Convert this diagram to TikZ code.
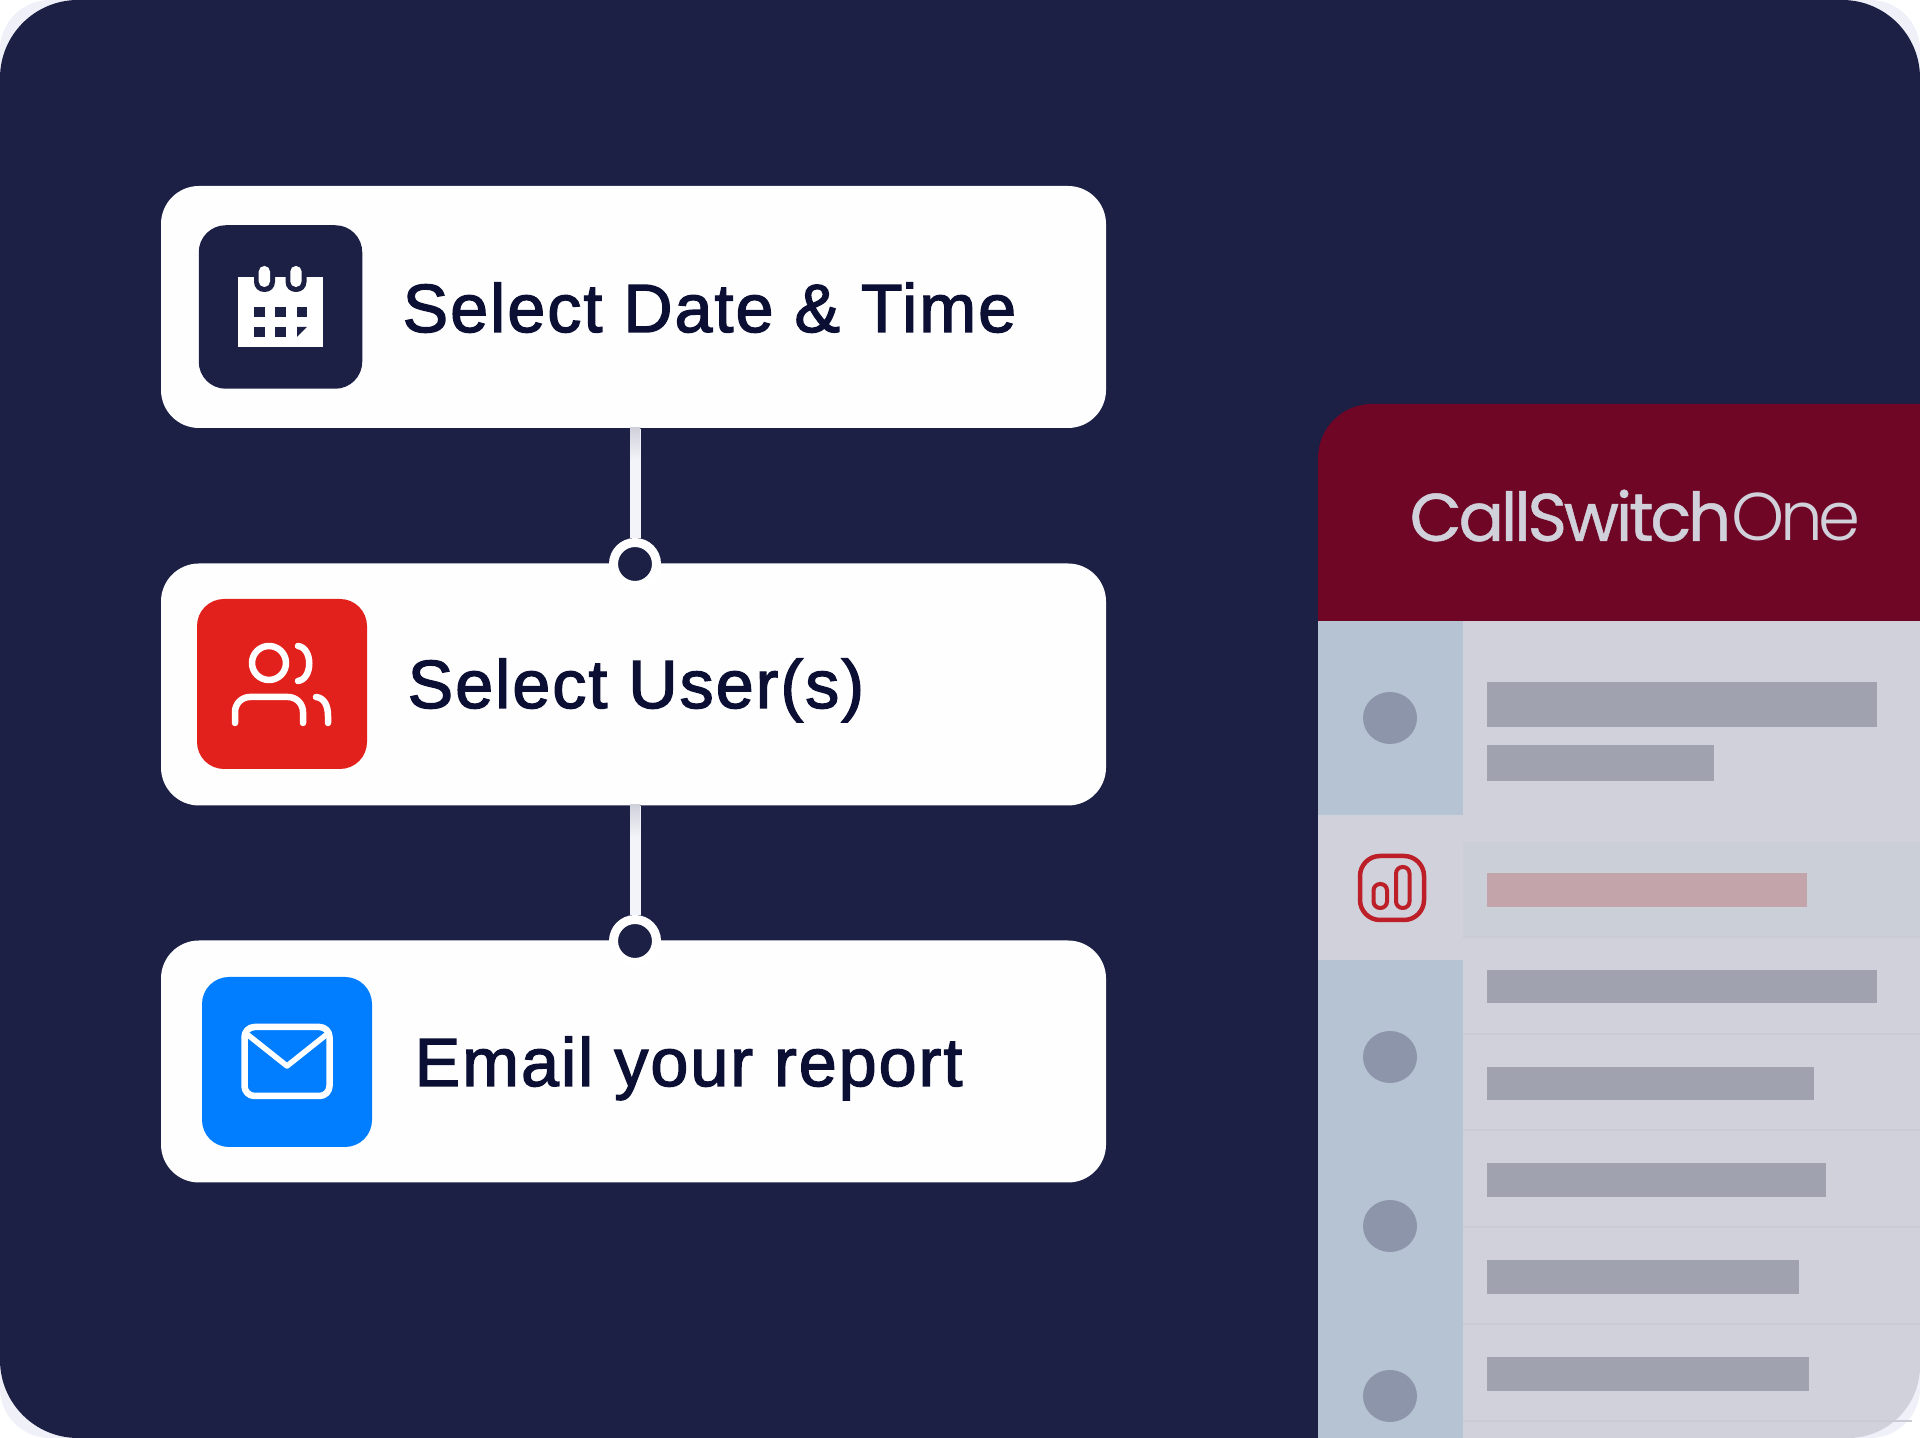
\documentclass[tikz,border=0pt]{standalone}
\usepackage{fontspec}
\setmainfont{Liberation Sans}[FakeBold=2,LetterSpace=3]
\newfontfamily\logofont{Poppins}[LetterSpace=-4.9,FakeBold=0.7]
\newfontfamily\logothin{Poppins Light}[LetterSpace=-6.2]
\usetikzlibrary{positioning,shapes.geometric}
\definecolor{navy}{HTML}{1B2044}
\definecolor{halo}{HTML}{EFF0F8}
\definecolor{cardwhite}{HTML}{FEFEFF}
\definecolor{inkblue}{HTML}{0B0F33}
\definecolor{linkgrey}{HTML}{F3F4F9}
\definecolor{usersred}{HTML}{E2211C}
\definecolor{mailblue}{HTML}{007EFF}
\definecolor{headerred}{HTML}{6F0626}
\definecolor{panelgrey}{HTML}{D0D1DA}
\definecolor{railblue}{HTML}{B6C3D2}
\definecolor{railblob}{HTML}{8C95A9}
\definecolor{rowbar}{HTML}{A0A2AF}
\definecolor{rowlight}{HTML}{CBCFD8}
\definecolor{rowline}{HTML}{CACBD5}
\definecolor{activebar}{HTML}{C4A4AB}
\definecolor{activeicon}{HTML}{BD1F28}
\tikzset{
	card/.style={
		rectangle,
		rounded corners=0.38cm,
		fill=cardwhite,
		minimum width=9.45cm,
		minimum height=2.42cm,
		inner sep=0
	},
	iconbox/.style={
		rectangle,
		rounded corners=0.27cm,
		minimum size=1.7cm,
		inner sep=0
	},
	cardlabel/.style={
		anchor=base west,
		inner sep=0,
		text=inkblue,
		font=\fontsize{19.4}{24}\selectfont
	},
	joint/.style={
		circle,
		draw=white,
		fill=navy,
		line width=0.09cm,
		minimum size=0.43cm,
		inner sep=0
	},
	link/.style={
		color=linkgrey,
		line width=0.11cm
	},
	iconline/.style={
		color=white,
		line width=0.065cm,
		line cap=round,
		line join=round
	},
	rowbarfill/.style={
		fill=rowbar
	},
	rowrule/.style={
		color=rowline,
		line width=0.013cm
	},
	railspot/.style={
		ellipse,
		fill=railblob,
		minimum width=0.54cm,
		minimum height=0.52cm,
		inner sep=0
	}
}
\begin{document}
\begin{tikzpicture}
	\useasboundingbox (0,0) rectangle (19.2,14.38);
	% Hintergrund
	\fill[white] (0,0) rectangle (19.2,14.38);
	\fill[halo, rounded corners=0.5cm] (0,0) rectangle (19.2,14.38);
	\fill[navy, rounded corners=0.78cm] (0,0) rectangle (19.2,14.38);
	% Panel
	\fill[panelgrey] (13.18,8.17) -- (19.2,8.17) [rounded corners=0.72cm] -- (19.2,0)
		[sharp corners] -- (13.18,0) -- cycle;
	\fill[headerred] (13.18,8.17) [rounded corners=0.54cm] -- (13.18,10.34)
		[sharp corners] -- (19.2,10.34) -- (19.2,8.17) -- cycle;
	\node[
		anchor=base west,
		inner sep=0,
		text=panelgrey
	] (logo) at (14.09,8.97) {\fontsize{19.2}{24}\selectfont{\logofont CallSwitch}{\logothin One}};
	% Leiste links
	\fill[railblue] (13.18,6.23) rectangle (14.63,8.17);
	\fill[railblue] (13.18,0) rectangle (14.63,4.78);
	\node[railspot] (spotA) at (13.9,7.2) {};
	\node[railspot] (spotB) at (13.9,3.81) {};
	\node[railspot] (spotC) at (13.9,2.12) {};
	\node[railspot] (spotD) at (13.9,0.42) {};
	% Aktive Zeile
	\fill[rowlight] (14.63,5.0) rectangle (19.2,5.96);
	\fill[activebar] (14.87,5.31) rectangle (18.065,5.65);
	\draw[
		color=activeicon,
		line width=0.045cm,
		rounded corners=0.2cm
	] (13.6,5.18) rectangle (14.24,5.82);
	\draw[
		color=activeicon,
		line width=0.04cm,
		rounded corners=0.065cm
	] (13.735,5.3) rectangle (13.87,5.54);
	\draw[
		color=activeicon,
		line width=0.04cm,
		rounded corners=0.065cm
	] (13.96,5.3) rectangle (14.095,5.71);
	% Zeilen
	\fill[rowbarfill] (14.87,7.105) rectangle (18.765,7.56);
	\fill[rowbarfill] (14.87,6.57) rectangle (17.14,6.93);
	\fill[rowbarfill] (14.87,4.35) rectangle (18.765,4.68);
	\fill[rowbarfill] (14.87,3.38) rectangle (18.14,3.71);
	\fill[rowbarfill] (14.87,2.41) rectangle (18.255,2.75);
	\fill[rowbarfill] (14.87,1.44) rectangle (17.99,1.78);
	\fill[rowbarfill] (14.87,0.47) rectangle (18.09,0.81);
	\draw[rowrule] (14.63,5.01) -- (19.2,5.01);
	\draw[rowrule] (14.63,4.04) -- (19.2,4.04);
	\draw[rowrule] (14.63,3.08) -- (19.2,3.08);
	\draw[rowrule] (14.63,2.11) -- (19.2,2.11);
	\draw[rowrule] (14.63,1.14) -- (19.2,1.14);
	\draw[rowrule] (14.63,0.17) -- (19.12,0.17);
	% Karten
	\node[card] (dateCard) at (6.335,11.31) {};
	\node[card] (userCard) at (6.335,7.535) {};
	\node[card] (mailCard) at (6.335,3.765) {};
	\node[joint] (userJoint) at (6.35,8.74) {};
	\node[joint] (mailJoint) at (6.35,4.97) {};
	% Verbindungen
	\draw[link] (userJoint |- dateCard.south) -- (userJoint);
	\draw[link] (mailJoint |- userCard.south) -- (mailJoint);
	\shade[
		top color=panelgrey,
		bottom color=linkgrey
	] (6.3,9.78) rectangle (6.4,10.1);
	\shade[
		top color=panelgrey,
		bottom color=linkgrey
	] (6.3,6.01) rectangle (6.4,6.33);
	% Texte
	\node[cardlabel] (dateText) at (4.02,11.06) {Select Date \& Time};
	\node[cardlabel] (userText) at (4.07,7.3) {Select User(s)};
	\node[cardlabel] (mailText) at (4.14,3.52) {Email your report};
	% Kalender
	\node[
		iconbox,
		fill=navy,
		minimum size=1.635cm
	] (dateIcon) at (2.805,11.31) {};
	\fill[white] (2.38,10.91) rectangle (3.23,11.61);
	\fill[navy, rounded corners=0.1cm] (2.54,11.46) rectangle (2.75,11.8);
	\fill[navy, rounded corners=0.1cm] (2.855,11.46) rectangle (3.065,11.8);
	\fill[white, rounded corners=0.055cm] (2.587,11.51) rectangle (2.7,11.72);
	\fill[white, rounded corners=0.055cm] (2.903,11.51) rectangle (3.016,11.72);
	\fill[navy] (2.54,11.21) rectangle (2.65,11.31);
	\fill[navy] (2.75,11.21) rectangle (2.86,11.31);
	\fill[navy] (2.97,11.21) rectangle (3.07,11.31);
	\fill[navy] (2.54,11.01) rectangle (2.65,11.11);
	\fill[navy] (2.75,11.01) rectangle (2.86,11.11);
	\fill[navy] (2.97,11.11) -- (3.07,11.11) -- (2.97,11.01) -- cycle;
	% Benutzer
	\node[
		iconbox,
		fill=usersred
	] (userIcon) at (2.82,7.54) {};
	\draw[iconline] (2.69,7.75) circle (0.17);
	\draw[iconline] (2.98,7.92) .. controls (3.13,7.9) and (3.13,7.59) .. (2.98,7.57);
	\draw[iconline, rounded corners=0.15cm] (2.35,7.15) -- (2.35,7.41) -- (3.03,7.41) -- (3.03,7.15);
	\draw[iconline] (3.16,7.41) .. controls (3.24,7.4) and (3.28,7.33) .. (3.28,7.22) -- (3.28,7.15);
	% Brief
	\node[
		iconbox,
		fill=mailblue
	] (mailIcon) at (2.87,3.76) {};
	\draw[iconline, rounded corners=0.1cm] (2.445,3.42) rectangle (3.295,4.11);
	\draw[iconline, line width=0.055cm] (2.48,4.03) -- (2.87,3.72) -- (3.26,4.03);
\end{tikzpicture}
\end{document}
